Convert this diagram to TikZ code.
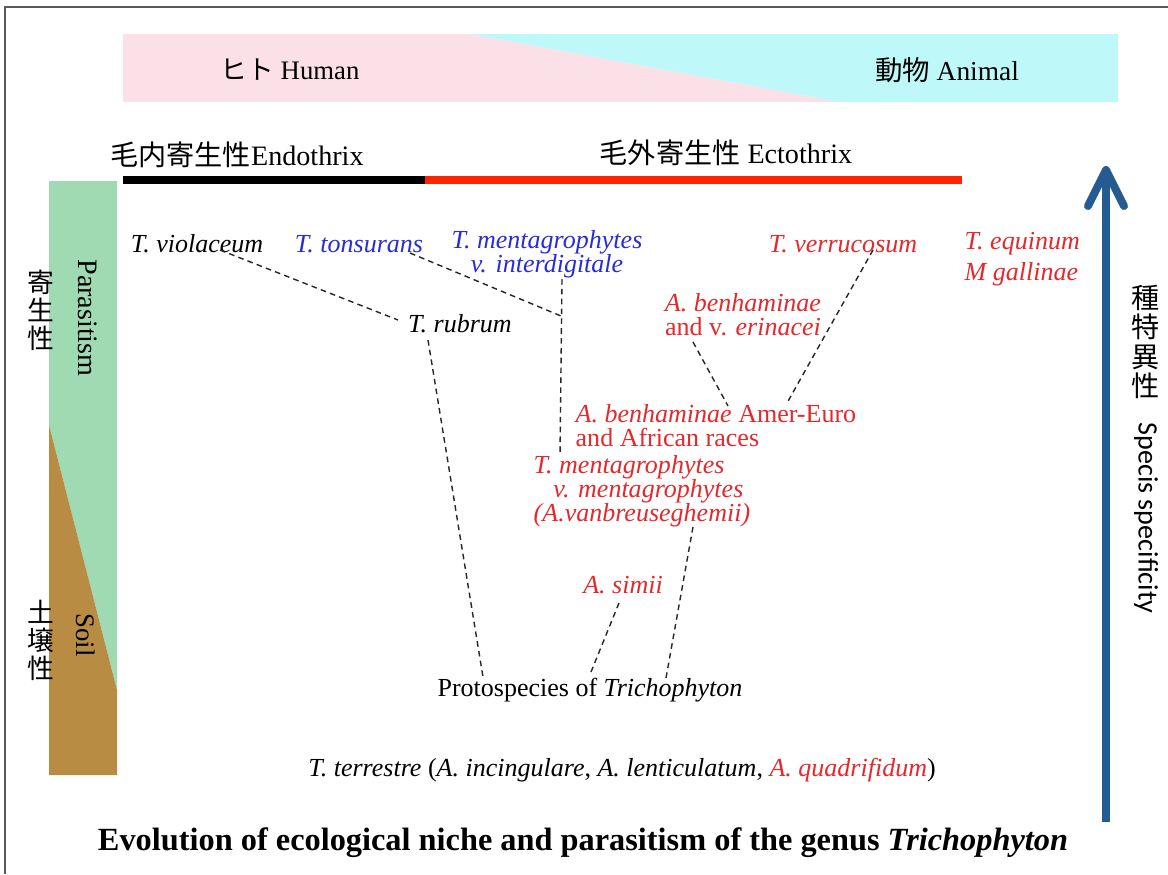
\documentclass[tikz,border=0pt]{standalone}
\usepackage{fontspec}
\setmainfont{Liberation Serif}
\newfontfamily\cjk{Noto Sans CJK JP}
\newfontfamily\calibri{Carlito}
\usepackage{xcolor}
\usepackage{tikz}
\usetikzlibrary{calc}

\definecolor{humanpink}{RGB}{252,224,232}
\definecolor{animalcyan}{RGB}{190,248,248}
\definecolor{parasgreen}{RGB}{160,218,178}
\definecolor{soilbrown}{RGB}{184,140,66}
\definecolor{ectored}{RGB}{255,36,0}
\definecolor{spred}{RGB}{228,40,44}
\definecolor{spblue}{RGB}{40,44,215}
\definecolor{specblue}{RGB}{36,92,146}
\definecolor{framegray}{RGB}{90,90,90}

\begin{document}
\begin{tikzpicture}[x=0.025cm, y=-0.025cm,
    taxon/.style={font=\fontsize{18.5}{17}\selectfont, inner sep=1pt, align=center},
    header/.style={font=\fontsize{20}{22}\selectfont, inner sep=1pt},
    vcjk/.style={font=\cjk\fontsize{19}{20}\selectfont, align=center, inner sep=0pt},
    lineage/.style={dash pattern=on 4pt off 3pt, line width=1pt, black!85}]

    \useasboundingbox (0,0) rectangle (1168,874);

    % Frame
    \draw[framegray, line width=1pt] (5,874) -- (5,7) -- (1168,7);

    % Host band: human -> animal
    \fill[humanpink] (123,34) -- (470,34) -- (840,102) -- (123,102) -- cycle;
    \fill[animalcyan] (470,34) -- (1118,34) -- (1118,102) -- (840,102) -- cycle;
    \node[font=\fontsize{19}{20}\selectfont] (human) at (290,70) {{\cjk ヒト} Human};
    \node[font=\fontsize{19.5}{20}\selectfont] (animal) at (947,70) {{\cjk 動物} Animal};

    % Endothrix / Ectothrix bars
    \node[header] (endo) at (237,155) {{\cjk 毛内寄生性}Endothrix};
    \node[header] (ecto) at (726,153) {{\cjk 毛外寄生性} Ectothrix};
    \fill[black] (123,176) rectangle (425,184);
    \fill[ectored] (425,176) rectangle (962,184);

    % Parasitism / soil column
    \fill[parasgreen] (49,181) -- (117,181) -- (117,690) -- (49,425) -- cycle;
    \fill[soilbrown] (49,425) -- (117,690) -- (117,775) -- (49,775) -- cycle;
    \node[vcjk] (parasjp) at (41,310) {寄\\生\\性};
    \node[rotate=-90, font=\fontsize{20}{22}\selectfont] (parasen) at (88,318) {Parasitism};
    \node[vcjk] (soiljp) at (41,640) {土\\壌\\性};
    \node[rotate=-90, font=\fontsize{19}{22}\selectfont] (soilen) at (86,635) {Soil};

    % Species specificity arrow
    \draw[specblue, line width=0.2cm] (1106,822) -- (1106,174);
    \draw[specblue, line width=0.2cm, line cap=round, line join=round]
        (1088,206) -- (1106,170) -- (1124,206);
    \node[vcjk, font=\cjk\fontsize{20}{21}\selectfont] (specjp) at (1146,342) {種\\特\\異\\性};
    \node[rotate=-90, font=\calibri\fontsize{20}{22}\selectfont] (specen) at (1146,518) {Specis specificity};

    % Taxa
    \node[taxon] (viol) at (197,244) {\textit{T. violaceum}};
    \node[taxon, spblue] (tons) at (359,244) {\textit{T. tonsurans}};
    \node[taxon, spblue] (menti) at (547,254) {\textit{T. mentagrophytes}\\\textit{v. interdigitale}};
    \node[taxon, spred] (verr) at (843,244) {\textit{T. verrucosum}};
    \node[taxon, spred, align=left, anchor=west, font=\fontsize{18.5}{22}\selectfont] (equi) at (963,259)
        {\textit{T. equinum}\\\textit{M gallinae}};
    \node[taxon] (rubrum) at (460,324) {\textit{T. rubrum}};
    \node[taxon, spred] (erin) at (743,315) {\textit{A. benhaminae}\\and v. \textit{erinacei}};
    \node[taxon, spred, align=left, anchor=west] (amer) at (574,426)
        {\textit{A. benhaminae} Amer-Euro\\and African races};
    \node[taxon, spred, align=left, anchor=west] (mentm) at (532,491)
        {\textit{T. mentagrophytes}\\\hspace*{14pt}\textit{v. mentagrophytes}\\\textit{(A.vanbreuseghemii)}};
    \node[taxon, spred] (simii) at (623,585) {\textit{A. simii}};
    \node[font=\fontsize{18.5}{20}\selectfont, inner sep=1pt] (proto) at (590,690) {Protospecies of \textit{Trichophyton}};
    \node[taxon] (terr) at (622,770) {\textit{T. terrestre} (\textit{A. incingulare}, \textit{A. lenticulatum},
        \textcolor{spred}{\textit{A. quadrifidum}})};

    % Lineages
    \draw[lineage] ($(viol)+(23,6)$) -- ($(rubrum)+(-62,-4)$);
    \draw[lineage] ($(tons)+(51,9)$) -- ($(menti)+(14,62)$);
    \draw[lineage] ($(menti)+(15,25)$) -- ($(mentm.west)+(28,-36)$);
    \draw[lineage] ($(rubrum)+(-32,16)$) -- ($(proto)+(-107,-13)$);
    \draw[lineage] ($(erin)+(-50,27)$) -- ($(amer.west)+(154,-20)$);
    \draw[lineage] ($(verr)+(30,6)$) -- ($(amer.west)+(213,-23)$);
    \draw[lineage] ($(mentm.west)+(161,36)$) -- ($(proto)+(76,-12)$);
    \draw[lineage] ($(simii)+(-4,18)$) -- ($(proto)+(1,-18)$);

    % Caption
    \node[font=\bfseries\fontsize{23}{25}\selectfont] (title) at (583,843)
        {Evolution of ecological niche and parasitism of the genus \textit{Trichophyton}};

\end{tikzpicture}
\end{document}
